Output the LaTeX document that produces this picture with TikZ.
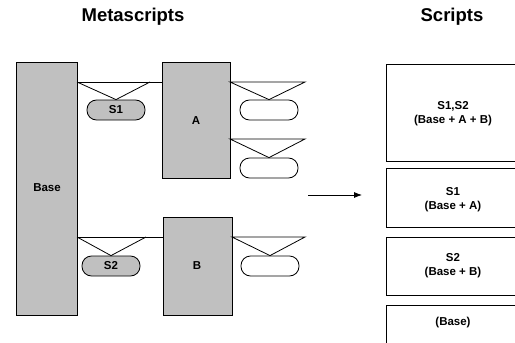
\documentclass[tikz,border=0pt]{standalone}
\usepackage{fontspec}
\setmainfont{Liberation Sans}
\usetikzlibrary{arrows.meta}
\definecolor{boxgray}{HTML}{C0C0C0}
\tikzset{
  every node/.style={font=\bfseries\fontsize{11.5}{14}\selectfont, inner sep=0pt},
  graybox/.style={draw, fill=boxgray, line width=0.8pt},
  pill/.style={draw, line width=0.8pt, rounded corners=9.5pt, minimum width=58pt, minimum height=20pt},
  graypill/.style={pill, fill=boxgray},
  whitepill/.style={pill, fill=white},
  conn/.style={line width=0.8pt},
  scriptbox/.style={draw, line width=0.8pt, fill=white},
  title/.style={font=\bfseries\fontsize{18.5}{22}\selectfont},
}
\begin{document}
\begin{tikzpicture}[x=1pt,y=-1pt]
\clip (0,0) rectangle (515,343);
\fill[white] (0,0) rectangle (515,343);

% titles
\node[title] (t1) at (133,17) {Metascripts};
\node[title] (t2) at (452,17) {Scripts};

% main boxes
\path[graybox] (16,62) rectangle (77,315);
\node (base) at (47,188) {Base};
\path[graybox] (162,62) rectangle (230,178);
\node (a) at (196,121) {A};
\path[graybox] (163,217) rectangle (232,315);
\node (b) at (197,266) {B};

% named connection points
\coordinate (baseA) at (77,82);
\coordinate (aL) at (162,82);
\coordinate (baseB) at (77,237);
\coordinate (bL) at (163,237);
\coordinate (aR1) at (230,82);
\coordinate (aR2) at (230,139);
\coordinate (bR) at (232,237);

% pills
\node[graypill] (s1) at (116,110) {S1};
\node[graypill] (s2) at (111,266) {S2};
\node[whitepill] (p1) at (269,110) {};
\node[whitepill] (p2) at (269,168) {};
\node[whitepill] (p3) at (270,266) {};

% base -> A
\draw[conn] (baseA) -- (aL);
\draw[conn] (baseA) -- (s1.north) -- (150,82);
% base -> B
\draw[conn] (baseB) -- (bL);
\draw[conn] (baseB) -- (s2.north) -- (146,237);
% A right
\draw[conn] (aR1) -- (305,82) -- (p1.north) -- cycle;
\draw[conn] (aR2) -- (305,139) -- (p2.north) -- cycle;
% B right
\draw[conn] (bR) -- (305,237) -- (p3.north) -- cycle;

% arrow
\coordinate (arrS) at (308,195);
\coordinate (arrE) at (362,195);
\draw[conn, -{Latex[length=8pt,width=6pt]}] (arrS) -- (arrE);

% scripts boxes
\path[scriptbox] (386,64) rectangle (530,161);
\node[align=center] (sc1) at (453,114) {S1,S2\\(Base + A + B)};
\path[scriptbox] (386,168) rectangle (530,227);
\node[align=center] (sc2) at (453,200) {S1\\(Base + A)};
\path[scriptbox] (386,237) rectangle (530,295);
\node[align=center] (sc3) at (453,266) {S2\\(Base + B)};
\path[scriptbox] (386,305) rectangle (530,360);
\node (sc4) at (453,323) {(Base)};
\end{tikzpicture}
\end{document}
